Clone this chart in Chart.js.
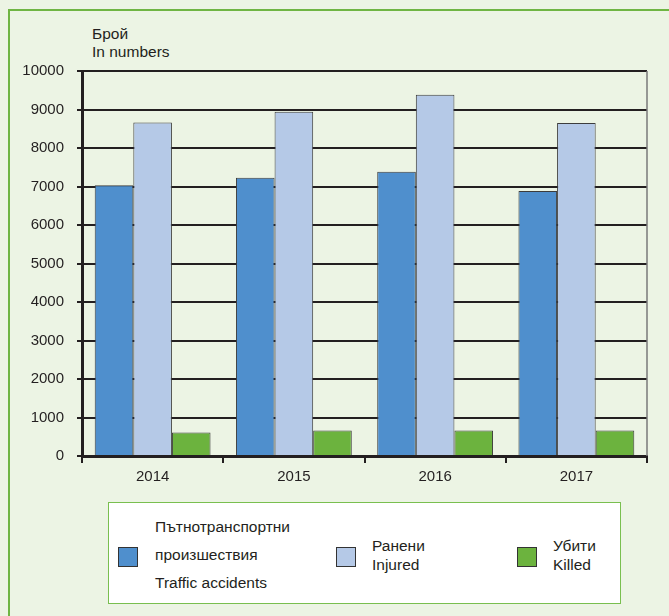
<!DOCTYPE html>
<html>
<head>
<meta charset="utf-8">
<script src="https://cdn.jsdelivr.net/npm/chart.js@4.4.1/dist/chart.umd.min.js"></script>
<style>
  body { margin: 0; background: #ecf4e4; font-family: 'Liberation Sans', Arial, sans-serif; color: #231f20; }
  #wrap { position: relative; width: 669px; height: 616px; overflow: hidden; }
  #frame { position: absolute; left: 8px; top: 9px; width: 700px; height: 700px;
           border-top: 2.5px solid #6fb543; border-left: 2.5px solid #6fb543; }
  #chart { position: absolute; left: 0; top: 0; }
  .unit { position: absolute; left: 92px; font-size: 15.5px; line-height: 18px; }
  #legend { position: absolute; left: 108px; top: 502px; width: 511px; height: 100px;
            background: #fff; border: 1.5px solid #79bf4f; }
  .sw { position: absolute; width: 18px; height: 18px; border: 1px solid #333; box-sizing: content-box; }
  .lt { position: absolute; font-size: 15.5px; line-height: 18px; white-space: nowrap; }
</style>
</head>
<body>
<div id="wrap">
  <div id="frame"></div>
  <div class="unit" style="top:25px">Брой</div>
  <div class="unit" style="top:43px">In numbers</div>
  <canvas id="chart" width="669" height="616"></canvas>
  <div id="legend"></div>
</div>
<script>
// Road traffic accidents, injured and killed by year
const years = ['2014', '2015', '2016', '2017'];
const accidents = [7030, 7225, 7385, 6880];
const injured = [8660, 8940, 9380, 8650];
const killed = [610, 665, 665, 665];
const yTicks = [0, 1000, 2000, 3000, 4000, 5000, 6000, 7000, 8000, 9000, 10000];

const seriesNames = [
    ['Пътнотранспортни', 'произшествия', 'Traffic accidents'],
    ['Ранени', 'Injured'],
    ['Убити', 'Killed']
];
const seriesColors = ['#4f8fcd', '#b5c9e7', '#6cb33e'];

const ink = '#231f20';
const font = { family: "'Liberation Sans', Arial, sans-serif", size: 15 };

// thin grey line closing the plot on the right
const rightEdge = {
    id: 'rightEdge',
    beforeDatasetsDraw(chart) {
        const a = chart.chartArea;
        const c = chart.ctx;
        c.save();
        c.strokeStyle = '#7a7a7a';
        c.lineWidth = 1.5;
        c.beginPath();
        c.moveTo(a.right, a.top);
        c.lineTo(a.right, a.bottom);
        c.stroke();
        c.restore();
    }
};

const ctx = document.getElementById('chart').getContext('2d');
new Chart(ctx, {
    type: 'bar',
    data: {
        labels: years,
        datasets: [accidents, injured, killed].map((d, i) => ({
            label: seriesNames[i].join(' '),
            data: d,
            backgroundColor: seriesColors[i],
            borderColor: '#3c3c3c',
            borderWidth: 1,
            categoryPercentage: 0.82,
            barPercentage: 1
        }))
    },
    options: {
        responsive: false,
        animation: false,
        devicePixelRatio: 1,
        layout: { padding: { left: 0, top: 71, right: 22, bottom: 0 } },
        plugins: { legend: { display: false }, tooltip: { enabled: false } },
        scales: {
            x: {
                offset: true,
                afterFit(s) { s.height = 160; },
                grid: { offset: true, drawOnChartArea: false, drawTicks: true, tickLength: 7, color: ink, lineWidth: 2 },
                border: { color: ink, width: 3 },
                ticks: { color: ink, font: font, padding: 5 }
            },
            y: {
                min: 0,
                max: 10000,
                afterFit(s) { s.width = 82; },
                afterBuildTicks(s) { s.ticks = yTicks.map(v => ({ value: v })); },
                grid: { color: ink, lineWidth: 2, tickLength: 5 },
                border: { color: ink, width: 3 },
                ticks: { color: ink, font: font, padding: 13, callback: v => String(v) }
            }
        }
    },
    plugins: [rightEdge]
});

// legend box below the plot
const legend = document.getElementById('legend');
const swatchX = [9, 227, 408];
const textX = [46, 263, 444];
seriesNames.forEach((lines, i) => {
    const sw = document.createElement('div');
    sw.className = 'sw';
    sw.style.left = swatchX[i] + 'px';
    sw.style.top = '44px';
    sw.style.background = seriesColors[i];
    legend.appendChild(sw);
    const step = lines.length === 3 ? 28 : 19;
    const mid = 52;
    lines.forEach((t, j) => {
        const el = document.createElement('div');
        el.className = 'lt';
        el.textContent = t;
        el.style.left = textX[i] + 'px';
        el.style.top = (mid - 9 + (j - (lines.length - 1) / 2) * step) + 'px';
        legend.appendChild(el);
    });
});
</script>
</body>
</html>
